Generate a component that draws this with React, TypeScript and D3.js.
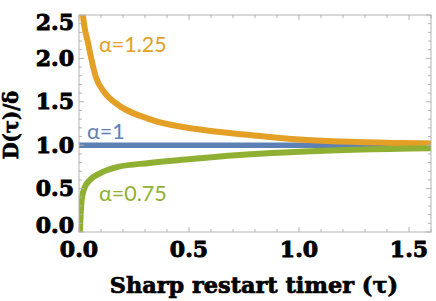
import * as d3 from "d3";

const xDomain = [0, 1.6];
const yDomain = [0, 2.5];
const majorX = [0, 0.5, 1.0, 1.5];
const majorY = [0, 0.5, 1.0, 1.5, 2.0, 2.5];

// values: [tau, D/delta]
const alpha125 = [
  [0.016, 2.56], [0.018, 2.5], [0.041, 2.18], [0.076, 1.79], [0.118, 1.6],
  [0.164, 1.49], [0.32, 1.3], [0.55, 1.18], [0.777, 1.118], [1.0, 1.065],
  [1.46, 1.025], [1.6, 1.02],
];
const alpha1 = [[0, 1], [1.6, 1]];
const alpha075 = [
  [0.004, 0], [0.012, 0.37], [0.027, 0.52], [0.05, 0.6], [0.095, 0.676],
  [0.177, 0.75], [0.32, 0.795], [0.55, 0.85], [0.777, 0.895], [1.0, 0.925],
  [1.6, 0.964],
];

const series = [
  { name: "α=1", data: alpha1, color: "#5E81B5", width: 5.5, lx: 87, ly: 139 },
  { name: "α=1.25", data: alpha125, color: "#E39F26", width: 6, lx: 99, ly: 52 },
  { name: "α=0.75", data: alpha075, color: "#8FB032", width: 6, lx: 99, ly: 201 },
];

const tickFont = "'DejaVu Serif', serif";

export default function App() {
  const width = 436;
  const height = 301;
  const left = 79, right = 431, top = 15, bottom = 232;

  const x = d3.scaleLinear().domain(xDomain).range([left, right]);
  const y = d3.scaleLinear().domain(yDomain).range([bottom, top]);

  const line = d3
    .line<number[]>()
    .x((d) => x(d[0]))
    .y((d) => y(d[1]))
    .curve(d3.curveMonotoneX);

  const minorX = d3.range(0, 16.5, 1).map((i) => i / 10);
  const minorY = d3.range(0, 25.5, 1).map((i) => i / 10);
  const isMajor = (v: number) => Math.abs(v * 2 - Math.round(v * 2)) < 1e-6;

  return (
    <svg width={width} height={height} style={{ position: "absolute", left: 0, top: 0 }}>
      <rect width={width} height={height} fill="white" />
      <defs>
        <clipPath id="plot">
          <rect x={left} y={top} width={right - left} height={bottom - top} />
        </clipPath>
      </defs>
      <g clipPath="url(#plot)">
        {series.map((s) => (
          <path key={s.name} d={line(s.data) || ""} fill="none" stroke={s.color} strokeWidth={s.width} />
        ))}
      </g>
      <rect x={left} y={top} width={right - left} height={bottom - top} fill="none" stroke="#b3b3b3" strokeWidth={1} />
      <g stroke="#b3b3b3" strokeWidth={1}>
        {minorX.map((v) => {
          const len = isMajor(v) ? 5 : 3;
          return (
            <g key={"x" + v}>
              <line x1={x(v)} x2={x(v)} y1={bottom} y2={bottom - len} />
              <line x1={x(v)} x2={x(v)} y1={top} y2={top + len} />
            </g>
          );
        })}
        {minorY.map((v) => {
          const len = isMajor(v) ? 5 : 3;
          return (
            <g key={"y" + v}>
              <line x1={left} x2={left + len} y1={y(v)} y2={y(v)} />
              <line x1={right} x2={right - len} y1={y(v)} y2={y(v)} />
            </g>
          );
        })}
      </g>
      <g fontFamily={tickFont} fontWeight="bold" fontSize={22} fill="black" stroke="black" strokeWidth={0.9}>
        {majorX.map((v) => (
          <text key={v} x={x(v)} y={257} textAnchor="middle">
            {d3.format(".1f")(v)}
          </text>
        ))}
        {majorY.map((v) => {
          let cy = y(v);
          cy = Math.max(cy, top + 7);
          cy = Math.min(cy, bottom - 7);
          return (
            <text key={v} x={74} y={cy + 7.5} textAnchor="end">
              {d3.format(".1f")(v)}
            </text>
          );
        })}
        <text x={(left + right) / 2 - 1} y={293} textAnchor="middle" fontSize={22.4} strokeWidth={0.7}>
          Sharp restart timer (τ)
        </text>
        <text transform={`translate(18,125) rotate(-90)`} textAnchor="middle" fontSize={19.5} strokeWidth={0.7}>
          D(τ)/δ
        </text>
      </g>
      <g fontFamily="Lato, sans-serif" fontSize={21.5}>
        {series.map((s) => (
          <text key={s.name} x={s.lx} y={s.ly} fill={s.color}>
            {s.name}
          </text>
        ))}
      </g>
    </svg>
  );
}
